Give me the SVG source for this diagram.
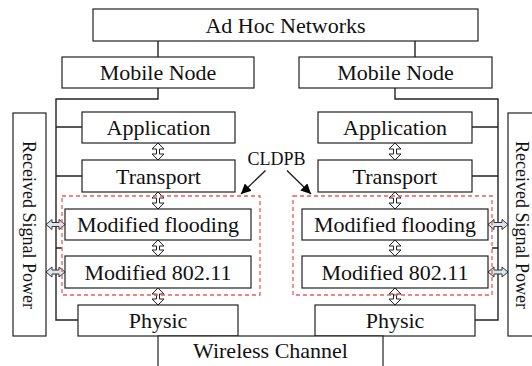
<svg xmlns="http://www.w3.org/2000/svg" width="532" height="366" viewBox="0 0 532 366">
<style>
.box{fill:#fff;stroke:#222;stroke-width:1.2}
.t{font-family:"Liberation Serif","Times New Roman",serif;font-size:22px;fill:#111;text-anchor:middle}
.rt{font-family:"Liberation Serif","Times New Roman",serif;font-size:18px;fill:#111;text-anchor:middle}
.ln{fill:none;stroke:#222;stroke-width:1.4}
.va{fill:#fff;stroke:#222;stroke-width:1}
.ha{fill:#dbe4ef;stroke:#333;stroke-width:1}
.red{fill:none;stroke:#f05a5a;stroke-width:1.3;stroke-dasharray:4 3}
</style>
<defs>
<marker id="ah" viewBox="0 0 10 10" refX="10" refY="5" markerWidth="10" markerHeight="10" markerUnits="userSpaceOnUse" orient="auto">
<path d="M0,0 L10,5 L0,10 Z" fill="#000"/>
</marker>
</defs>
<rect width="532" height="366" fill="#fff"/>

<g id="connectors">
<path class="ln" d="M158,41 V57 M415,41 V57"/>
<path class="ln" d="M158,88 V99 H56 V320 H78 M56,127 H82 M56,176 H82 M56,248 H62"/>
<path class="ln" d="M395,88 V99 H498 V320 H475 M472,127 H498 M472,176 H498 M492,248 H498"/>
<line class="ln" x1="265.5" y1="170.5" x2="241" y2="194" marker-end="url(#ah)"/>
<line class="ln" x1="287" y1="170.5" x2="311" y2="194" marker-end="url(#ah)"/>
<path class="va" d="M158,143 L164,149 L159.5,149 L159.5,154 L164,154 L158,160 L152,154 L156.5,154 L156.5,149 L152,149 Z"/>
<path class="va" d="M158,192 L164,198 L159.5,198 L159.5,203 L164,203 L158,209 L152,203 L156.5,203 L156.5,198 L152,198 Z"/>
<path class="va" d="M158,240 L164,246 L159.5,246 L159.5,250 L164,250 L158,256 L152,250 L156.5,250 L156.5,246 L152,246 Z"/>
<path class="va" d="M158,288 L164,294 L159.5,294 L159.5,299 L164,299 L158,305 L152,299 L156.5,299 L156.5,294 L152,294 Z"/>
<path class="va" d="M395,143 L401,149 L396.5,149 L396.5,154 L401,154 L395,160 L389,154 L393.5,154 L393.5,149 L389,149 Z"/>
<path class="va" d="M395,192 L401,198 L396.5,198 L396.5,203 L401,203 L395,209 L389,203 L393.5,203 L393.5,198 L389,198 Z"/>
<path class="va" d="M395,240 L401,246 L396.5,246 L396.5,250 L401,250 L395,256 L389,250 L393.5,250 L393.5,246 L389,246 Z"/>
<path class="va" d="M395,288 L401,294 L396.5,294 L396.5,299 L401,299 L395,305 L389,299 L393.5,299 L393.5,294 L389,294 Z"/>
<path class="ha" d="M46,224.5 L52,219.5 L52,222.5 L59,222.5 L59,219.5 L65,224.5 L59,229.5 L59,226.5 L52,226.5 L52,229.5 Z"/>
<path class="ha" d="M46,272 L52,267 L52,270 L59,270 L59,267 L65,272 L59,277 L59,274 L52,274 L52,277 Z"/>
<path class="ha" d="M488,224.5 L494,219.5 L494,222.5 L502,222.5 L502,219.5 L508,224.5 L502,229.5 L502,226.5 L494,226.5 L494,229.5 Z"/>
<path class="ha" d="M488,272 L494,267 L494,270 L502,270 L502,267 L508,272 L502,277 L502,274 L494,274 L494,277 Z"/>
</g>

<g id="adhoc"><rect class="box" x="93" y="9" width="385" height="32"/><text class="t" x="285.5" y="32.5">Ad Hoc Networks</text></g>
<g id="mobile-left"><rect class="box" x="62" y="57" width="192" height="31"/><text class="t" x="158" y="80">Mobile Node</text></g>
<g id="mobile-right"><rect class="box" x="299" y="57" width="193" height="31"/><text class="t" x="395.5" y="80">Mobile Node</text></g>

<g id="app-left"><rect class="box" x="82" y="112" width="153" height="31"/><text class="t" x="158.5" y="135">Application</text></g>
<g id="app-right"><rect class="box" x="318" y="112" width="154" height="31"/><text class="t" x="395" y="135">Application</text></g>
<g id="transport-left"><rect class="box" x="82" y="160" width="153" height="32"/><text class="t" x="158.5" y="183.5">Transport</text></g>
<g id="transport-right"><rect class="box" x="318" y="160" width="154" height="32"/><text class="t" x="395" y="183.5">Transport</text></g>

<g id="cldpb-left"><rect class="red" x="62" y="196" width="198" height="99"/></g>
<g id="cldpb-right"><rect class="red" x="293" y="196" width="199" height="99"/></g>

<g id="flood-left"><rect class="box" x="65" y="209" width="186" height="31"/><text class="t" x="158" y="232">Modified flooding</text></g>
<g id="flood-right"><rect class="box" x="302" y="209" width="186" height="31"/><text class="t" x="395" y="232">Modified flooding</text></g>
<g id="mac-left"><rect class="box" x="65" y="256" width="186" height="32"/><text class="t" x="158" y="279.5">Modified 802.11</text></g>
<g id="mac-right"><rect class="box" x="302" y="256" width="186" height="32"/><text class="t" x="395" y="279.5">Modified 802.11</text></g>

<g id="phy-left"><rect class="box" x="78" y="305" width="160" height="31"/><text class="t" x="158" y="328">Physic</text></g>
<g id="phy-right"><rect class="box" x="315" y="305" width="160" height="31"/><text class="t" x="395" y="328">Physic</text></g>

<g id="wireless"><rect class="box" x="158" y="336" width="225" height="40"/><text class="t" x="270.5" y="357.5">Wireless Channel</text></g>

<g id="rsp-left"><rect class="box" x="13" y="113" width="33" height="223"/><text class="rt" transform="translate(29,225) rotate(90)" x="0" y="6">Received Signal Power</text></g>
<g id="rsp-right"><rect class="box" x="508" y="113" width="33" height="223"/><text class="rt" transform="translate(522,225) rotate(90)" x="0" y="6">Received Signal Power</text></g>

<g id="cldpb-label"><text class="rt" x="276.5" y="165">CLDPB</text></g>
</svg>
